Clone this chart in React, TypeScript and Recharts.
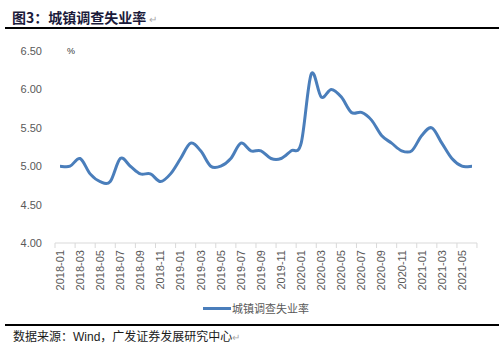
import React from "react";
import { LineChart, Line, XAxis, YAxis } from "recharts";

const months = [
  "2018-01", "2018-02", "2018-03", "2018-04", "2018-05", "2018-06", "2018-07", "2018-08", "2018-09", "2018-10", "2018-11", "2018-12",
  "2019-01", "2019-02", "2019-03", "2019-04", "2019-05", "2019-06", "2019-07", "2019-08", "2019-09", "2019-10", "2019-11", "2019-12",
  "2020-01", "2020-02", "2020-03", "2020-04", "2020-05", "2020-06", "2020-07", "2020-08", "2020-09", "2020-10", "2020-11", "2020-12",
  "2021-01", "2021-02", "2021-03", "2021-04", "2021-05", "2021-06",
];
const rates = [
  5.0, 5.0, 5.1, 4.9, 4.8, 4.8, 5.1, 5.0, 4.9, 4.9, 4.8, 4.9,
  5.1, 5.3, 5.2, 5.0, 5.0, 5.1, 5.3, 5.2, 5.2, 5.1, 5.1, 5.2,
  5.3, 6.2, 5.9, 6.0, 5.9, 5.7, 5.7, 5.6, 5.4, 5.3, 5.2, 5.2,
  5.4, 5.5, 5.3, 5.1, 5.0, 5.0,
];
const yTicks = [4.0, 4.5, 5.0, 5.5, 6.0, 6.5];

const data = months.map((m, i) => ({ month: m, rate: rates[i] }));

const BLUE = "#4A7EBB";
const AXIS_TEXT = "#595959";
const LATIN = '"Liberation Sans", Arial, sans-serif';
const CJK = '"Noto Sans CJK SC", sans-serif';

// Excel-like smoothed line (Catmull-Rom through the points)
function excelCurve(context: any) {
  let pts: number[][] = [];
  return {
    areaStart() {},
    areaEnd() {},
    lineStart() { pts = []; },
    point(x: number, y: number) { pts.push([+x, +y]); },
    lineEnd() {
      const n = pts.length;
      if (!n) return;
      context.moveTo(pts[0][0], pts[0][1]);
      for (let i = 0; i < n - 1; i++) {
        const p0 = pts[Math.max(i - 1, 0)];
        const p1 = pts[i];
        const p2 = pts[i + 1];
        const p3 = pts[Math.min(i + 2, n - 1)];
        context.bezierCurveTo(
          p1[0] + (p2[0] - p0[0]) / 6, p1[1] + (p2[1] - p0[1]) / 6,
          p2[0] - (p3[0] - p1[0]) / 6, p2[1] - (p3[1] - p1[1]) / 6,
          p2[0], p2[1]
        );
      }
    },
  };
}

function MonthTick(props: any) {
  const { x, y, payload } = props;
  const axisY = y - 7;
  return (
    <g>
      <line x1={x - 5} y1={axisY} x2={x - 5} y2={axisY + 5} stroke="#d9d9d9" />
      {payload.value === "2021-05" && (
        <line x1={x + 15} y1={axisY} x2={x + 15} y2={axisY + 5} stroke="#d9d9d9" />
      )}
      <text
        x={x}
        y={y}
        dy="0.35em"
        transform={`rotate(-90, ${x}, ${y})`}
        textAnchor="end"
        fill={AXIS_TEXT}
        fontSize={11}
        fontFamily={LATIN}
      >
        {payload.value}
      </text>
    </g>
  );
}

export default function App() {
  return (
    <div style={{ position: "absolute", left: 0, top: 0, width: 499, height: 354, background: "#fff", overflow: "hidden" }}>
      <div style={{ position: "absolute", left: 12, top: 7, fontFamily: CJK, fontWeight: 700, fontSize: 14, color: "#1b1b3b", whiteSpace: "nowrap", lineHeight: "20px" }}>
        图3：城镇调查失业率 <span style={{ fontWeight: 400, fontSize: 10, color: "#aaa" }}>↵</span>
      </div>
      <div style={{ position: "absolute", left: 5, top: 27, width: 494, height: 2, background: "#000" }} />

      <div style={{ position: "absolute", left: 67, top: 46, fontFamily: LATIN, fontSize: 9, color: "#333" }}>%</div>

      <div style={{ position: "absolute", left: 0, top: 0 }}>
        <LineChart width={499} height={354} data={data} margin={{ top: 51, right: 22, bottom: 61, left: 10 }}>
          <XAxis
            dataKey="month"
            interval={1}
            tick={<MonthTick />}
            tickLine={false}
            tickSize={5}
            tickMargin={2}
            axisLine={{ stroke: "#d9d9d9" }}
            padding={{ left: 5, right: 5 }}
            height={50}
          />
          <YAxis
            width={45}
            domain={[4, 6.5]}
            ticks={yTicks}
            tickFormatter={(v: number) => v.toFixed(2)}
            axisLine={false}
            tickLine={false}
            tickMargin={7}
            tick={{ fontSize: 11, fill: AXIS_TEXT, fontFamily: LATIN }}
          />
          <Line
            dataKey="rate"
            type={excelCurve as any}
            stroke={BLUE}
            strokeWidth={3}
            dot={false}
            activeDot={false}
            isAnimationActive={false}
          />
        </LineChart>
      </div>

      <div style={{ position: "absolute", left: 203, top: 307, width: 28, height: 3, background: BLUE }} />
      <div style={{ position: "absolute", left: 232, top: 300, fontFamily: CJK, fontSize: 11, color: AXIS_TEXT, lineHeight: "16px", whiteSpace: "nowrap" }}>
        城镇调查失业率
      </div>

      <div style={{ position: "absolute", left: 5, top: 324, width: 494, height: 2, background: "#000" }} />
      <div style={{ position: "absolute", left: 13, top: 327, fontFamily: CJK, fontSize: 12, color: "#1b1b1b", whiteSpace: "nowrap", lineHeight: "17px" }}>
        数据来源：<span style={{ fontFamily: LATIN }}>Wind</span>，广发证券发展研究中心<span style={{ fontSize: 10, color: "#aaa" }}>↵</span>
      </div>
    </div>
  );
}
